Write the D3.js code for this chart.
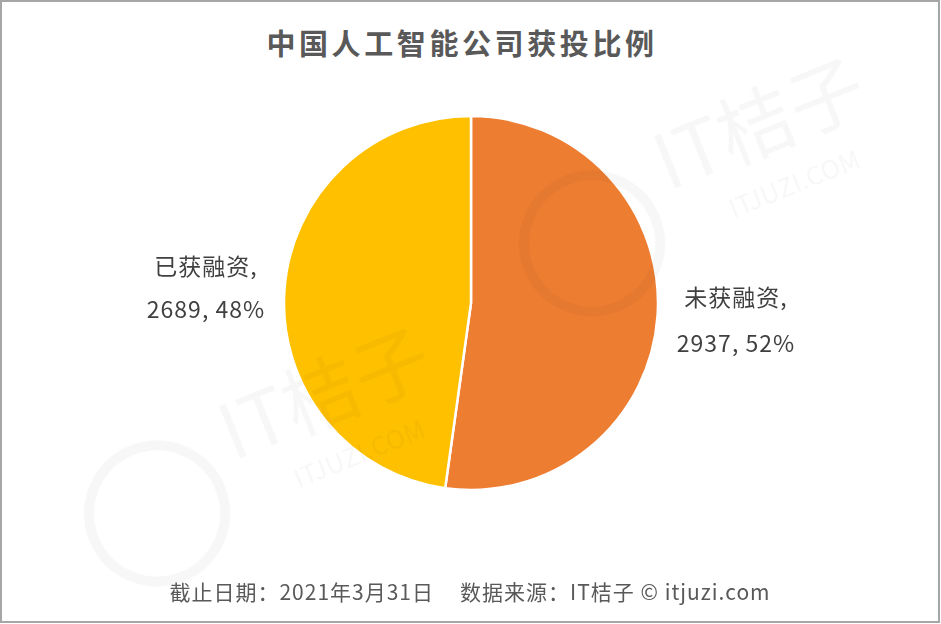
<!DOCTYPE html>
<html><head><meta charset="utf-8">
<script src="https://cdn.jsdelivr.net/npm/d3@7/dist/d3.min.js"></script>
<style>
html,body{margin:0;padding:0;background:#fff;}
svg{display:block;font-family:"Noto Sans CJK SC","Noto Sans",sans-serif;}
</style></head>
<body>
<svg id="chart" width="941" height="624"></svg>
<script>
const title = "中国人工智能公司获投比例";
const categories = ["未获融资", "已获融资"];
const values = [2937, 2689];
const colors = ["#ED7D31", "#FFC000"];
const footerDate = "截止日期：2021年3月31日";
const footerSource = "数据来源：IT桔子 © itjuzi.com";

const svg = d3.select("#chart");
const W = 941, H = 624;
svg.append("rect").attr("x",1).attr("y",1).attr("width",W-3).attr("height",H-3)
  .attr("fill","#fff").attr("stroke","#a6a6a6").attr("stroke-width",2);

svg.append("text").attr("x",462).attr("y",55).attr("text-anchor","middle")
  .attr("font-size",29).attr("font-weight","bold").attr("letter-spacing",3.6)
  .attr("fill","#595959").text(title);

const cx = 471, cy = 303, R = 187;
const pie = d3.pie().sort(null).value(d=>d)(values);
const arc = d3.arc().innerRadius(0).outerRadius(R);
const g = svg.append("g").attr("transform",`translate(${cx},${cy})`);
g.selectAll("path").data(pie).join("path")
  .attr("d",arc).attr("fill",(d,i)=>colors[i]).attr("stroke","#fff").attr("stroke-width",2.5);

// faint watermarks (overlaid)
const wm = svg.append("g").attr("fill","#000").attr("opacity",0.035);
[[770,150,-22,-200],[335,420,-22,-200]].forEach(([x,y,r,co])=>{
  const w = wm.append("g").attr("transform",`translate(${x},${y}) rotate(${r})`);
  w.append("text").attr("x",0).attr("y",0).attr("font-size",76).attr("text-anchor","middle").text("IT桔子");
  w.append("text").attr("x",10).attr("y",50).attr("font-size",26).attr("text-anchor","middle").text("ITJUZI.COM");
  w.append("circle").attr("cx",co).attr("cy",20).attr("r",68).attr("fill","none").attr("stroke","#000").attr("stroke-width",10);
});

const total = d3.sum(values);
const labelPos = [[736,306,352],[206,275,318]];
pie.forEach((d,i)=>{
  const pct = Math.round(values[i]/total*100);
  const t = svg.append("text").attr("text-anchor","middle").attr("font-size",23)
    .attr("letter-spacing",1).attr("fill","#404040");
  t.append("tspan").attr("x",labelPos[i][0]).attr("y",labelPos[i][1]).text(categories[i]+",");
  t.append("tspan").attr("x",labelPos[i][0]).attr("y",labelPos[i][2]).text(values[i]+", "+pct+"%");
});

const ft = svg.append("text").attr("x",470).attr("y",600).attr("text-anchor","middle")
  .attr("font-size",21).attr("letter-spacing",1.0).attr("fill","#595959");
ft.append("tspan").text(footerDate);
ft.append("tspan").attr("dx",26).text(footerSource);
</script>
</body></html>
